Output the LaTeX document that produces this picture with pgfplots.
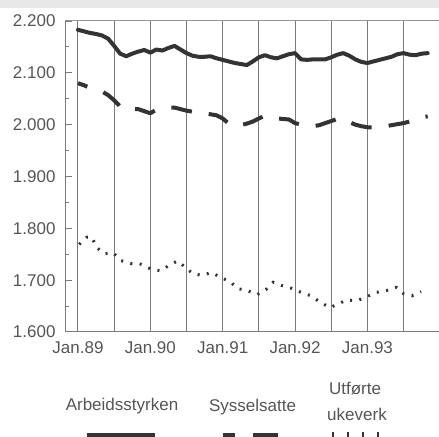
\documentclass[border=0pt]{standalone}
\usepackage{fontspec}
\setmainfont{Liberation Sans}
\usepackage{pgfplots}
\pgfplotsset{compat=1.18}
\definecolor{ink}{HTML}{333333}
\definecolor{txt}{HTML}{555555}
\definecolor{gridc}{HTML}{7A7A7A}
\begin{document}
\begin{tikzpicture}
\useasboundingbox (0bp,0bp) rectangle (439bp,437bp);
\fill[black!9] (0bp,429bp) rectangle (439bp,437bp);
\begin{axis}[at={(65bp,105bp)}, anchor=south west, scale only axis,
  width=374bp, height=311bp,
  xmin=-2.15, xmax=59.87, ymin=1.6, ymax=2.2,
  clip mode=individual,
  axis x line*=bottom, axis y line*=left,
  axis line style={draw=none},
  xtick={0,12,24,36,48}, xticklabels={Jan.89,Jan.90,Jan.91,Jan.92,Jan.93},
  minor xtick={6,18,30,42,54},
  xmajorgrids, xminorgrids,
  major grid style={gridc, line width=1bp},
  minor grid style={gridc, line width=1bp},
  x tick style={draw=none},
  ytick={1.6,1.7,1.8,1.9,2.0,2.1,2.2},
  yticklabels={1.600,1.700,1.800,1.900,2.000,2.100,2.200},
  minor ytick={1.65,1.75,1.85,1.95,2.05,2.15},
  y tick style={gridc, line width=1bp},
  tick align=inside,
  major tick length=7bp, minor tick length=4bp,
  tick label style={font=\fontsize{17bp}{20bp}\selectfont, text=txt},
  yticklabel style={xshift=-6bp},
  xticklabel style={yshift=-6.5bp},
]
\draw[gridc, line width=1bp] (rel axis cs:0,1) -- (rel axis cs:0,0) -- (rel axis cs:1,0);
% Arbeidsstyrken
\addplot[ink, line width=4bp, line join=round, line cap=round] coordinates {
(0,2.183) (1,2.180) (2,2.177) (3,2.175) (4,2.172) (5,2.166) (6,2.152) (7,2.137)
(8,2.132) (9,2.137) (10,2.141) (11,2.144) (12,2.139) (13,2.145) (14,2.143) (15,2.148)
(16,2.152) (17,2.145) (18,2.138) (19,2.133) (20,2.131) (21,2.131) (22,2.132) (23,2.128)
(24,2.125) (25,2.122) (26,2.119) (27,2.117) (28,2.115) (29,2.122) (30,2.130) (31,2.134)
(32,2.130) (33,2.128) (34,2.132) (35,2.136) (36,2.138) (37,2.126) (38,2.125) (39,2.126)
(40,2.126) (41,2.126) (42,2.130) (43,2.135) (44,2.138) (45,2.133) (46,2.126) (47,2.121)
(48,2.119) (49,2.122) (50,2.125) (51,2.128) (52,2.131) (53,2.136) (54,2.138) (55,2.135)
(56,2.134) (57,2.137) (58,2.138)};
% Sysselsatte
\addplot[ink, line width=4bp, line join=round, dash pattern=on 21bp off 17bp, dash phase=11bp] coordinates {
(0,2.080) (1,2.076) (2,2.071) (3,2.068) (4,2.064) (5,2.057) (6,2.047) (7,2.035)
(8,2.029) (9,2.030) (10,2.030) (11,2.026) (12,2.022) (13,2.029) (14,2.031) (15,2.033)
(16,2.033) (17,2.030) (18,2.027) (19,2.025) (20,2.024) (21,2.022) (22,2.020) (23,2.018)
(24,2.012) (25,2.002) (26,1.997) (27,1.999) (28,2.002) (29,2.006) (30,2.012) (31,2.017)
(32,2.016) (33,2.012) (34,2.011) (35,2.010) (36,2.003) (37,2.000) (38,1.998) (39,1.997)
(40,1.999) (41,2.003) (42,2.007) (43,2.011) (44,2.012) (45,2.005) (46,2.000) (47,1.997)
(48,1.995) (49,1.995) (50,1.996) (51,1.997) (52,1.999) (53,2.001) (54,2.003) (55,2.006)
(56,2.010) (57,2.014) (58,2.016)};
% Utforte ukeverk
\addplot[ink, line width=3bp, dash pattern=on 2bp off 7.5bp] coordinates {
(0.2,1.769) (1.5,1.783) (2.3,1.783) (3.1,1.763) (4.4,1.751) (5.8,1.753) (7.1,1.738)
(8.7,1.732) (10.2,1.732) (12.0,1.722) (13.7,1.718) (15.2,1.729) (16.5,1.737) (17.8,1.725)
(19.0,1.713) (20.6,1.709) (22.1,1.715) (23.4,1.707) (25.4,1.696) (26.4,1.684) (28.1,1.680)
(29.7,1.672) (31.2,1.682) (32.4,1.696) (33.7,1.690) (35.5,1.684) (37.1,1.676) (38.6,1.670)
(40.1,1.658) (41.8,1.647) (43.1,1.654) (44.6,1.662) (46.2,1.660) (47.9,1.668) (49.3,1.676)
(51.2,1.680) (52.8,1.686) (54.0,1.674) (55.4,1.670) (56.9,1.678)};
\end{axis}
\fill[white] (435.5bp,105.6bp) rectangle (440bp,415.4bp);
\draw[gridc!80, line width=1bp] (65bp,416bp) -- (439bp,416bp);
% legend
\begin{scope}[font=\fontsize{17bp}{20bp}\selectfont, text=txt]
\node[anchor=base] at (122bp,26.3bp) {Arbeidsstyrken};
\node[anchor=base] at (252.5bp,25.3bp) {Sysselsatte};
\node[anchor=base] at (355bp,42bp) {Utførte};
\node[anchor=base] at (357bp,17bp) {ukeverk};
\end{scope}
\draw[ink, line width=8bp] (87bp,0bp) -- (155bp,0bp);
\draw[ink, line width=8bp] (223bp,0bp) -- (235bp,0bp);
\draw[ink, line width=8bp] (253bp,0bp) -- (278bp,0bp);
\foreach \xx in {333,348,363,378} \draw[ink, line width=2.5bp] (\xx bp,0bp) -- (\xx bp,4.5bp);
\end{tikzpicture}
\end{document}
